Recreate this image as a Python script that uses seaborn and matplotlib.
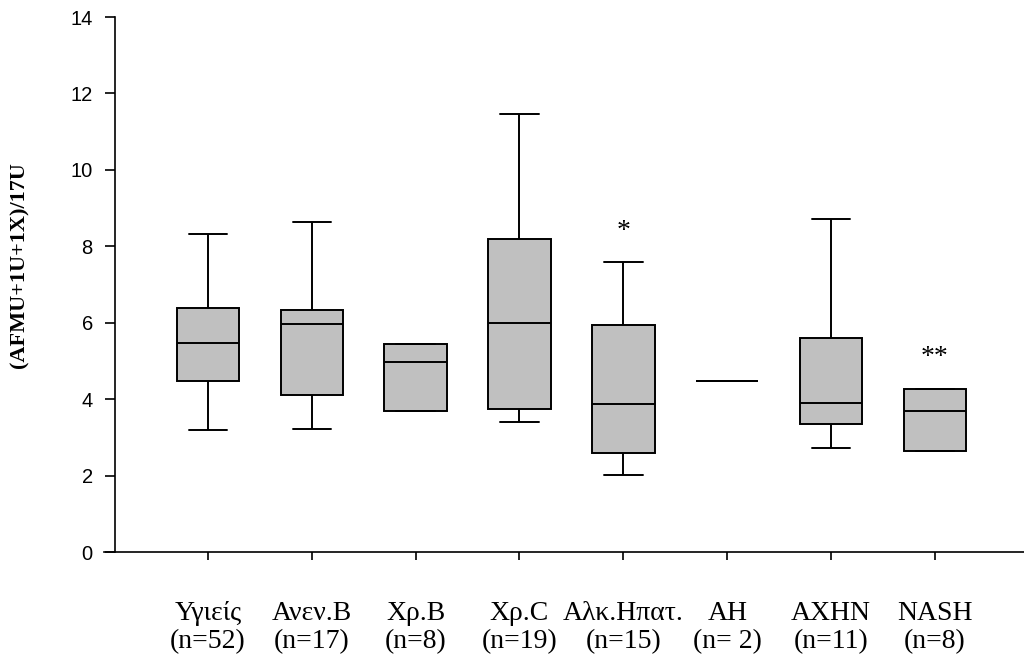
import numpy as np
import pandas as pd
import matplotlib
matplotlib.use("Agg")
import matplotlib.pyplot as plt
import seaborn as sns

# --- data (five-number summaries) ---
groups = ["Υγιείς", "Ανεν.Β", "Χρ.Β", "Χρ.C", "Αλκ.Ηπατ.", "AH", "AXHN", "NASH"]
n_labels = ["(n=52)", "(n=17)", "(n=8)", "(n=19)", "(n=15)", "(n= 2)", "(n=11)", "(n=8)"]
whisk_low = [3.19, 3.21, 3.68, 3.41, 2.02, 4.48, 2.72, 2.65]
q1 = [4.48, 4.12, 3.68, 3.74, 2.58, 4.48, 3.36, 2.65]
median = [5.47, 5.96, 4.96, 5.99, 3.87, 4.48, 3.91, 3.68]
q3 = [6.39, 6.32, 5.43, 8.19, 5.94, 4.48, 5.59, 4.27]
whisk_high = [8.32, 8.64, 5.43, 11.47, 7.59, 4.48, 8.72, 4.27]
sig_marks = {"Αλκ.Ηπατ.": ("*", 8.38), "NASH": ("**", 5.08)}
yticks = [0, 2, 4, 6, 8, 10, 12, 14]
ylabel = "(AFMU+1U+1X)/17U"

rows = []
for g, a, b, c, d, e in zip(groups, whisk_low, q1, median, q3, whisk_high):
    for v in (a, b, c, d, e):
        rows.append({"group": g, "value": v})
df = pd.DataFrame(rows)

sns.set_theme(style="ticks")
plt.rcParams["font.family"] = ["Liberation Sans", "DejaVu Sans"]

fig = plt.figure(figsize=(10.24, 6.6), dpi=100)
ax = fig.add_axes([104 / 1024, (660 - 552) / 660, 920 / 1024, (552 - 17) / 660])

sns.boxplot(data=df, x="group", y="value", order=groups, whis=(0, 100),
            width=0.6, color="#c0c0c0", saturation=1, linecolor="black",
            linewidth=1.4, fliersize=0, capwidths=0.37, ax=ax)

for s in ["top", "right"]:
    ax.spines[s].set_visible(False)
ax.spines["left"].set_position(("axes", 11 / 920))
for s in ["left", "bottom"]:
    ax.spines[s].set_color("black")
    ax.spines[s].set_linewidth(1.2)

ax.set_xlim(-1.0, 7.857)
ax.set_ylim(0, 14)
ax.set_yticks(yticks)
ax.set_yticklabels([str(t) for t in yticks], fontsize=14.5, color="black")
ax.set_xticks(range(len(groups)))
ax.set_xticklabels([f"{g}\n{n}" for g, n in zip(groups, n_labels)],
                   fontsize=20, family=["Liberation Serif", "DejaVu Serif"],
                   color="black", linespacing=1.2)
ax.tick_params(axis="x", length=6, width=1.2, pad=29, color="black")
ax.tick_params(axis="y", length=7.5, width=1.2, pad=8.5, color="black")

ax.set_xlabel("")
ax.set_ylabel(ylabel, fontsize=16, fontweight="bold",
              family=["Liberation Serif", "DejaVu Serif"], color="black")
ax.yaxis.set_label_coords(-0.081, 0.536)

for g, (txt, yv) in sig_marks.items():
    ax.text(groups.index(g), yv, txt, ha="center", va="center", fontsize=20,
            family=["Liberation Serif", "DejaVu Serif"], color="black")

fig.savefig("out.png", dpi=100)
